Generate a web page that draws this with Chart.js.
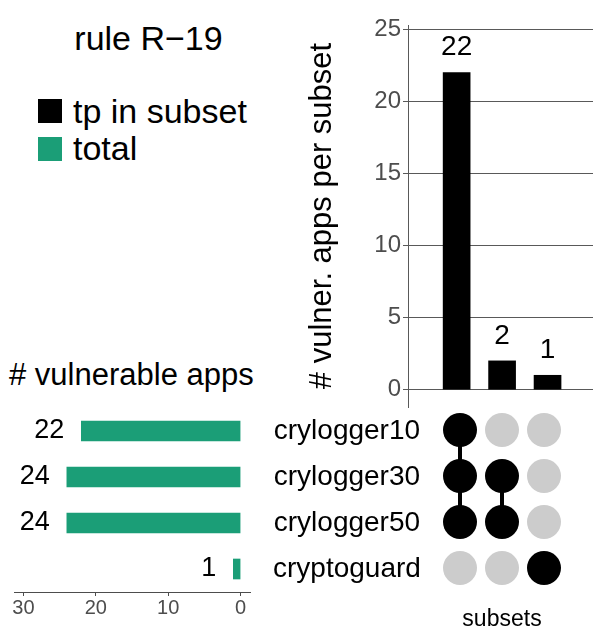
<!DOCTYPE html>
<html>
<head>
<meta charset="utf-8">
<script src="https://cdn.jsdelivr.net/npm/chart.js@4.4.1/dist/chart.umd.min.js"></script>
<style>
html,body{margin:0;padding:0;width:598px;height:642px;overflow:hidden;background:#fff;font-family:"Liberation Sans",Arial,sans-serif;}
canvas{position:absolute;}
.t{position:absolute;white-space:nowrap;line-height:1;color:#000;}
.sq{position:absolute;width:24px;height:24px;}
</style>
</head>
<body>
<div class="t" style="left:0;width:297px;text-align:center;top:21px;font-size:34px">rule R−19</div>
<div class="sq" style="left:38px;top:99px;background:#000"></div>
<div class="t" style="left:73px;top:94px;font-size:34px">tp in subset</div>
<div class="sq" style="left:38px;top:137px;background:#1b9e77"></div>
<div class="t" style="left:73px;top:131px;font-size:34px">total</div>
<div class="t" style="left:9px;top:359px;font-size:31px"># vulnerable apps</div>

<canvas id="cA" width="298" height="420" style="left:300px;top:0;width:298px;height:420px"></canvas>
<canvas id="cC" width="430" height="242" style="left:0;top:400px;width:430px;height:242px"></canvas>
<canvas id="cB" width="168" height="258" style="left:418px;top:384px;width:168px;height:258px"></canvas>

<script>
// ---- data ----
const setNames = ['crylogger10', 'crylogger30', 'crylogger50', 'cryptoguard'];
const setTotals = [22, 24, 24, 1];
const subsetNames = ['crylogger10&crylogger30&crylogger50', 'crylogger30&crylogger50', 'cryptoguard'];
const subsetCounts = [22, 2, 1];
// membership: one row per subset, one flag per set (order of setNames)
const subsetMembers = [
  [1, 1, 1, 0],
  [0, 1, 1, 0],
  [0, 0, 0, 1]
];
const subsetTicks = [0, 5, 10, 15, 20, 25];
const totalTicks = [0, 10, 20, 30];

const FONT = '"Liberation Sans", Arial, sans-serif';
Chart.defaults.font.family = FONT;
Chart.defaults.color = '#000';

function noPad(s) { s.paddingTop = 0; s.paddingBottom = 0; s.paddingLeft = 0; s.paddingRight = 0; }

// ---- top: intersection sizes ----
const labelsTop = {
  id: 'labelsTop',
  afterDatasetsDraw(chart) {
    const ctx = chart.ctx;
    const meta = chart.getDatasetMeta(0);
    ctx.save();
    ctx.font = '28px ' + FONT;
    ctx.fillStyle = '#000';
    ctx.textAlign = 'center';
    ctx.textBaseline = 'middle';
    meta.data.forEach((bar, i) => ctx.fillText(String(subsetCounts[i]), bar.x, bar.y - 25));
    ctx.restore();
  }
};

new Chart(document.getElementById('cA'), {
  type: 'bar',
  data: {
    labels: subsetNames,
    datasets: [{
      label: 'tp in subset',
      data: subsetCounts.map((v, i) => ({x: i + 1, y: v})),
      backgroundColor: '#000',
      barThickness: 27
    }]
  },
  options: {
    responsive: false, animation: false, devicePixelRatio: 1,
    layout: {padding: {top: 25, right: 5, bottom: 13, left: 0}, autoPadding: false},
    plugins: {legend: {display: false}, tooltip: {enabled: false}},
    scales: {
      x: {type: 'linear', min: -0.07, max: 4, offset: false, display: false},
      y: {
        type: 'linear', min: -1.2, max: 25.3,
        afterFit: s => { s.width = 108; noPad(s); },
        afterBuildTicks: s => { s.ticks = subsetTicks.map(v => ({value: v})); },
        ticks: {font: {size: 24}, color: '#4d4d4d', padding: 2},
        grid: {color: '#595959', lineWidth: 1, tickLength: 5},
        border: {color: '#595959', width: 1},
        title: {display: true, text: '# vulner. apps per subset', font: {size: 31, lineHeight: 1.2}, color: '#000', padding: {top: 4, bottom: 0}}
      }
    }
  },
  plugins: [labelsTop]
});

// ---- left: set sizes ----
const labelsLeft = {
  id: 'labelsLeft',
  afterDatasetsDraw(chart) {
    const ctx = chart.ctx;
    const meta = chart.getDatasetMeta(0);
    ctx.save();
    ctx.font = '27px ' + FONT;
    ctx.fillStyle = '#000';
    ctx.textAlign = 'right';
    ctx.textBaseline = 'middle';
    meta.data.forEach((bar, i) => ctx.fillText(String(setTotals[i]), bar.x - 17, bar.y));
    ctx.restore();
  }
};

new Chart(document.getElementById('cC'), {
  type: 'bar',
  data: {
    labels: setNames,
    datasets: [{label: 'total', data: setTotals, backgroundColor: '#1b9e77', barThickness: 20}]
  },
  options: {
    indexAxis: 'y',
    responsive: false, animation: false, devicePixelRatio: 1,
    layout: {padding: {top: 8, left: 14, right: 0, bottom: 0}, autoPadding: false},
    plugins: {legend: {display: false}, tooltip: {enabled: false}},
    scales: {
      x: {
        type: 'linear', reverse: true, min: -1.3, max: 31.3, position: 'bottom',
        afterFit: s => { s.height = 50; noPad(s); },
        afterBuildTicks: s => { s.ticks = totalTicks.map(v => ({value: v})); },
        ticks: {font: {size: 20}, color: '#4d4d4d', padding: 0, maxRotation: 0},
        grid: {drawOnChartArea: false, tickLength: 4, color: '#4d4d4d'},
        border: {color: '#4d4d4d', width: 1}
      },
      y: {
        position: 'right',
        afterFit: s => { s.width = 180; noPad(s); },
        ticks: {font: {size: 28}, color: '#000', crossAlign: 'center', padding: 23},
        grid: {display: false, drawTicks: false},
        border: {display: false}
      }
    }
  },
  plugins: [labelsLeft]
});

// ---- matrix: membership dots ----
const dotPoints = [];
const dotColors = [];
subsetMembers.forEach((m, i) => m.forEach((v, j) => {
  dotPoints.push({x: i + 1, y: j + 1});
  dotColors.push(v ? '#000' : '#cccccc');
}));
const lineSets = [];
subsetMembers.forEach((m, i) => {
  const rows = m.map((v, j) => v ? j + 1 : null).filter(v => v !== null);
  if (rows.length > 1) {
    lineSets.push({
      type: 'line',
      data: [{x: i + 1, y: Math.min(...rows)}, {x: i + 1, y: Math.max(...rows)}],
      borderColor: '#000', borderWidth: 4, pointRadius: 0, showLine: true, clip: false
    });
  }
});

new Chart(document.getElementById('cB'), {
  type: 'scatter',
  data: {
    datasets: [{
      data: dotPoints,
      pointBackgroundColor: dotColors,
      pointBorderWidth: 0,
      pointRadius: 17,
      clip: false
    }, ...lineSets]
  },
  options: {
    responsive: false, animation: false, devicePixelRatio: 1,
    layout: {padding: 0, autoPadding: false},
    plugins: {legend: {display: false}, tooltip: {enabled: false}},
    scales: {
      x: {
        type: 'linear', min: 0, max: 4,
        afterFit: s => { s.height = 36; noPad(s); },
        ticks: {display: false},
        grid: {display: false, drawTicks: false},
        border: {display: false},
        title: {display: true, text: 'subsets', font: {size: 23, lineHeight: 1.2}, color: '#000', padding: {top: 0, bottom: 9}}
      },
      y: {type: 'linear', reverse: true, min: 0, max: 222 / 46, display: false}
    }
  }
});
</script>
</body>
</html>
